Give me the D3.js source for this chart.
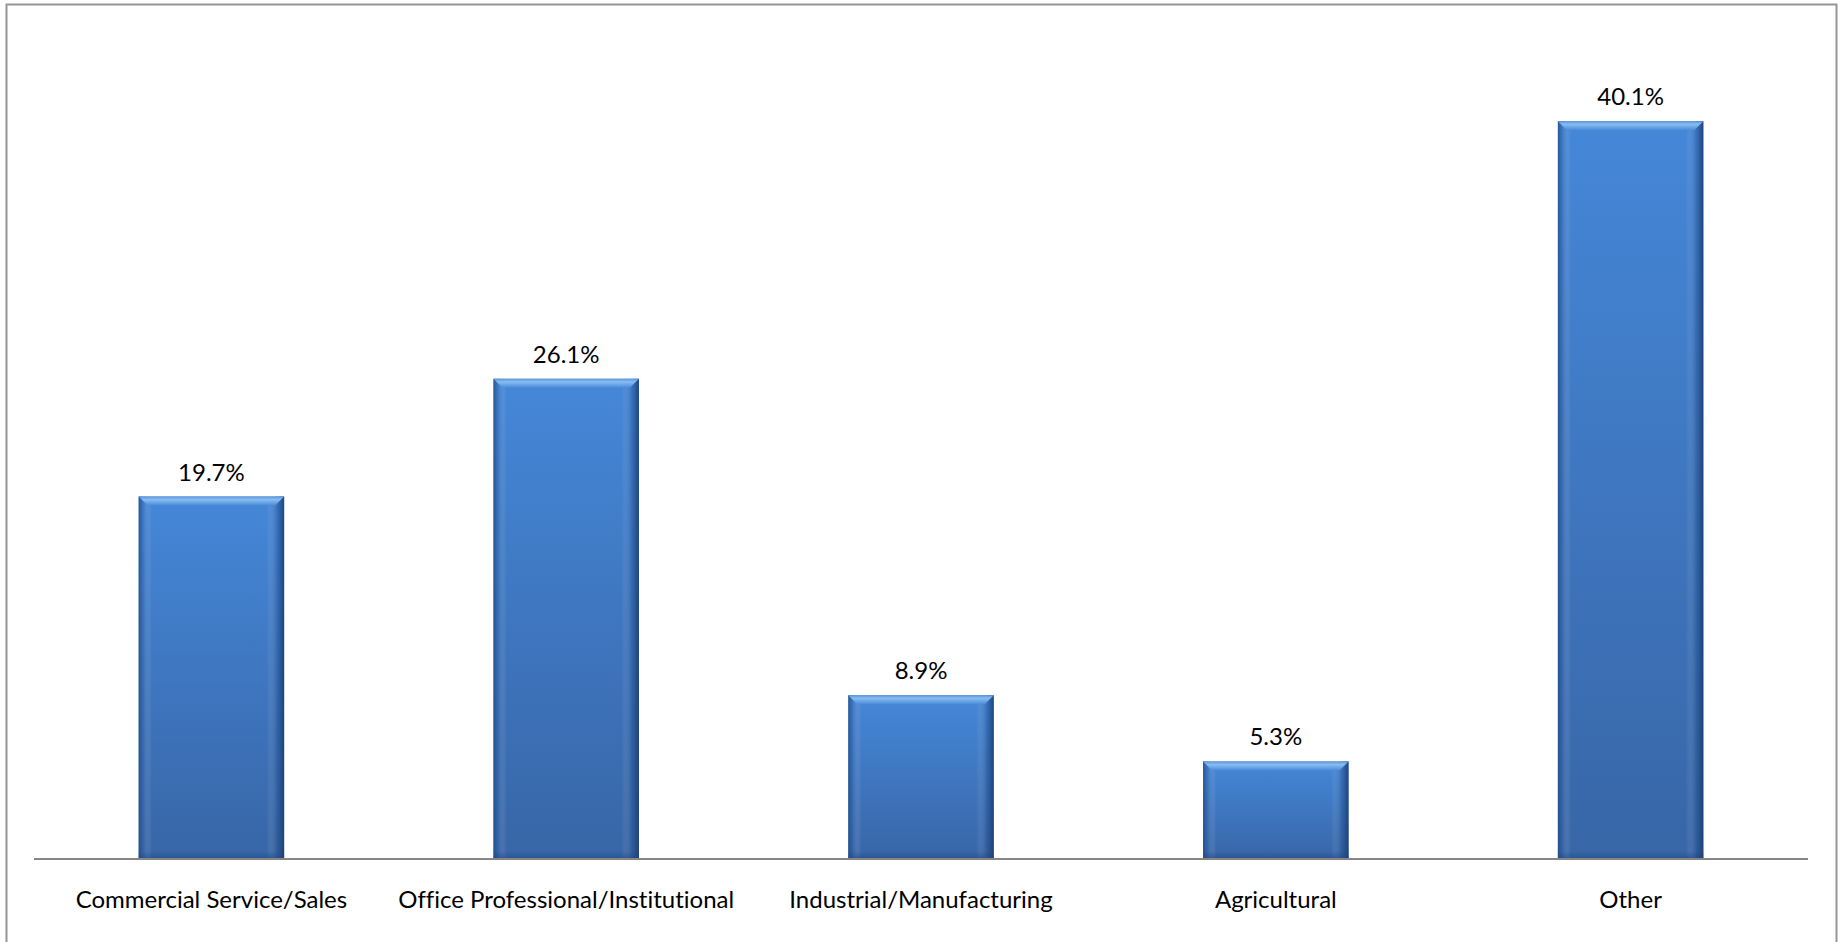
<!DOCTYPE html>
<html>
<head>
<meta charset="utf-8">
<script src="https://cdn.jsdelivr.net/npm/d3@7"></script>
<style>
  html, body { margin: 0; padding: 0; background: #ffffff; }
  svg { display: block; }
  text { font-family: Lato, "Open Sans", sans-serif; fill: #000; font-variant-ligatures: none; }
</style>
</head>
<body>
<svg id="chart" width="1845" height="942"></svg>
<script>
// Share of employment by sector (percent)
const categories = [
  "Commercial Service/Sales",
  "Office Professional/Institutional",
  "Industrial/Manufacturing",
  "Agricultural",
  "Other"
];
const values = [19.7, 26.1, 8.9, 5.3, 40.1];
const valueLabels = ["19.7%", "26.1%", "8.9%", "5.3%", "40.1%"];

const W = 1845, H = 942;
const svg = d3.select("#chart");

// Outer chart-area frame
svg.append("rect")
  .attr("x", 6.5).attr("y", 4.5)
  .attr("width", 1830).attr("height", 960)
  .attr("fill", "#fff")
  .attr("stroke", "#969696").attr("stroke-width", 2);

const plot = { left: 34, right: 1808, top: 31, bottom: 859 };

const x = d3.scaleBand()
  .domain(categories)
  .range([plot.left, plot.right])
  .paddingInner(0.59)
  .paddingOuter(0.295);

const y = d3.scaleLinear()
  .domain([0, 45])
  .range([plot.bottom, plot.top]);

// Gradients for the bevelled bar look
const defs = svg.append("defs");
const vGrad = defs.append("linearGradient").attr("id", "barBody")
  .attr("x1", 0).attr("y1", 0).attr("x2", 0).attr("y2", 1);
vGrad.append("stop").attr("offset", "0%").attr("stop-color", "#4587d8");
vGrad.append("stop").attr("offset", "100%").attr("stop-color", "#3866a7");

const hGrad = defs.append("linearGradient").attr("id", "barSides")
  .attr("x1", 0).attr("y1", 0).attr("x2", 1).attr("y2", 0);
[
  [0, "#1d4580", 0.75],
  [0.03, "#2a5a9e", 0.35],
  [0.09, "#ffffff", 0.0],
  [0.88, "#ffffff", 0.0],
  [0.95, "#1d4580", 0.3],
  [1, "#173a6e", 0.85]
].forEach(([o, c, a]) => hGrad.append("stop")
  .attr("offset", (o * 100) + "%").attr("stop-color", c).attr("stop-opacity", a));

const topGrad = defs.append("linearGradient").attr("id", "barTop")
  .attr("x1", 0).attr("y1", 0).attr("x2", 0).attr("y2", 1);
topGrad.append("stop").attr("offset", "0%").attr("stop-color", "#5d95da");
topGrad.append("stop").attr("offset", "35%").attr("stop-color", "#86bdf2");
topGrad.append("stop").attr("offset", "100%").attr("stop-color", "#4a8ad8");

const botGrad = defs.append("linearGradient").attr("id", "barBottom")
  .attr("x1", 0).attr("y1", 0).attr("x2", 0).attr("y2", 1);
botGrad.append("stop").attr("offset", "0%").attr("stop-color", "#1d4580").attr("stop-opacity", 0);
botGrad.append("stop").attr("offset", "100%").attr("stop-color", "#1d4580").attr("stop-opacity", 0.55);

const data = categories.map((c, i) => ({ cat: c, v: values[i], label: valueLabels[i] }));

const bars = svg.append("g").selectAll("g.bar").data(data).join("g").attr("class", "bar");

bars.append("rect")
  .attr("x", d => x(d.cat)).attr("y", d => y(d.v))
  .attr("width", x.bandwidth()).attr("height", d => y(0) - y(d.v))
  .attr("fill", "url(#barBody)");

bars.append("rect")
  .attr("x", d => x(d.cat)).attr("y", d => y(d.v))
  .attr("width", x.bandwidth()).attr("height", d => y(0) - y(d.v))
  .attr("fill", "url(#barSides)");

// bottom shading
bars.append("rect")
  .attr("x", d => x(d.cat)).attr("y", y(0) - 8)
  .attr("width", x.bandwidth()).attr("height", 8)
  .attr("fill", "url(#barBottom)");

// top bevel
const bev = 9;
bars.append("path")
  .attr("d", d => {
    const x0 = x(d.cat), x1 = x0 + x.bandwidth(), t = y(d.v);
    return `M${x0},${t}L${x1},${t}L${x1 - bev},${t + bev}L${x0 + bev},${t + bev}Z`;
  })
  .attr("fill", "url(#barTop)");

// value labels
bars.append("text")
  .attr("x", d => x(d.cat) + x.bandwidth() / 2)
  .attr("y", d => y(d.v) - 16)
  .attr("text-anchor", "middle")
  .attr("font-size", 24)
  .text(d => d.label);

// category axis
const axis = svg.append("g").attr("transform", `translate(0,${plot.bottom})`)
  .call(d3.axisBottom(x).tickSize(0).tickPadding(0));
axis.select(".domain").attr("stroke", "#868686").attr("stroke-width", 2)
  .attr("d", `M${plot.left},0H${plot.right}`);
axis.selectAll(".tick text")
  .attr("font-family", "Lato, 'Open Sans', sans-serif")
  .attr("font-size", 24)
  .attr("fill", "#000")
  .attr("dy", 0)
  .attr("y", 49);
</script>
</body>
</html>
